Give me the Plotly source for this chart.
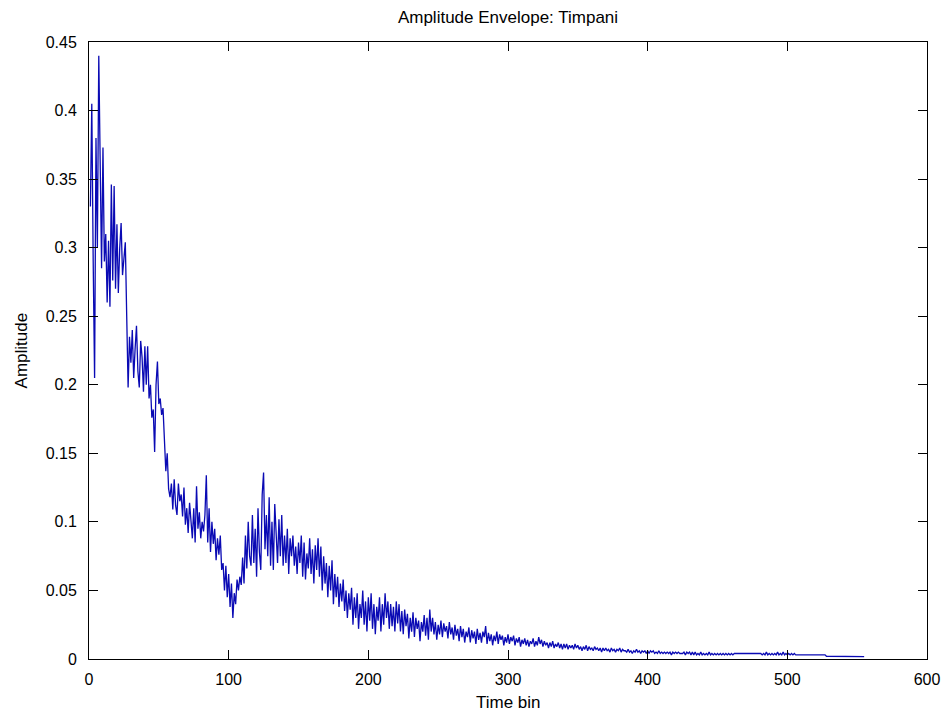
import plotly.graph_objects as go

# Amplitude envelope values, bins 1..555
amp_001_050 = [0.33, 0.405, 0.29, 0.205, 0.38, 0.30, 0.44, 0.345, 0.285, 0.373,
               0.29, 0.31, 0.26, 0.305, 0.257, 0.346, 0.276, 0.345, 0.27, 0.317,
               0.267, 0.30, 0.318, 0.28, 0.29, 0.304, 0.25, 0.198, 0.235, 0.216,
               0.24, 0.205, 0.226, 0.243, 0.21, 0.198, 0.232, 0.22, 0.195, 0.228,
               0.20, 0.228, 0.19, 0.20, 0.176, 0.182, 0.151, 0.20, 0.217, 0.186]
amp_051_100 = [0.19, 0.178, 0.183, 0.16, 0.137, 0.15, 0.124, 0.118, 0.128, 0.109,
               0.131, 0.112, 0.105, 0.128, 0.115, 0.12, 0.104, 0.125, 0.098, 0.11,
               0.092, 0.114, 0.10, 0.088, 0.11, 0.085, 0.126, 0.095, 0.107, 0.088,
               0.10, 0.093, 0.105, 0.134, 0.085, 0.11, 0.078, 0.10, 0.084, 0.095,
               0.072, 0.088, 0.076, 0.09, 0.065, 0.07, 0.05, 0.068, 0.045, 0.062]
amp_101_150 = [0.038, 0.055, 0.03, 0.048, 0.04, 0.058, 0.05, 0.06, 0.054, 0.074,
               0.055, 0.09, 0.066, 0.10, 0.075, 0.068, 0.105, 0.07, 0.095, 0.06,
               0.11, 0.078, 0.065, 0.12, 0.136, 0.08, 0.105, 0.075, 0.118, 0.068,
               0.10, 0.065, 0.113, 0.085, 0.07, 0.102, 0.075, 0.105, 0.068, 0.09,
               0.07, 0.095, 0.062, 0.088, 0.075, 0.09, 0.068, 0.082, 0.062, 0.085]
amp_151_200 = [0.07, 0.09, 0.06, 0.085, 0.058, 0.077, 0.066, 0.088, 0.062, 0.08,
               0.055, 0.083, 0.065, 0.088, 0.06, 0.082, 0.05, 0.075, 0.055, 0.07,
               0.045, 0.068, 0.05, 0.072, 0.04, 0.062, 0.045, 0.06, 0.038, 0.055,
               0.042, 0.058, 0.035, 0.05, 0.03, 0.048, 0.036, 0.052, 0.025, 0.045,
               0.03, 0.048, 0.022, 0.04, 0.03, 0.05, 0.025, 0.042, 0.02, 0.045]
amp_201_250 = [0.028, 0.048, 0.022, 0.04, 0.018, 0.038, 0.028, 0.045, 0.02, 0.04,
               0.025, 0.048, 0.03, 0.042, 0.022, 0.04, 0.024, 0.038, 0.02, 0.042,
               0.026, 0.04, 0.02, 0.035, 0.018, 0.036, 0.024, 0.033, 0.015, 0.03,
               0.02, 0.034, 0.016, 0.03, 0.022, 0.028, 0.013, 0.027, 0.02, 0.032,
               0.017, 0.03, 0.014, 0.036, 0.02, 0.03, 0.018, 0.027, 0.014, 0.025]
amp_251_300 = [0.018, 0.028, 0.016, 0.026, 0.02, 0.024, 0.015, 0.027, 0.018, 0.023,
               0.014, 0.025, 0.017, 0.022, 0.013, 0.024, 0.016, 0.022, 0.012, 0.02,
               0.016, 0.023, 0.012, 0.021, 0.015, 0.02, 0.011, 0.022, 0.014, 0.019,
               0.012, 0.02, 0.016, 0.024, 0.011, 0.019, 0.013, 0.018, 0.01, 0.017,
               0.013, 0.02, 0.011, 0.018, 0.014, 0.017, 0.01, 0.016, 0.012, 0.018]
amp_301_350 = [0.011, 0.016, 0.013, 0.017, 0.01, 0.015, 0.012, 0.016, 0.009, 0.014,
               0.011, 0.015, 0.01, 0.014, 0.009, 0.013, 0.011, 0.015, 0.009, 0.013,
               0.01, 0.016, 0.011, 0.014, 0.009, 0.013, 0.01, 0.012, 0.008, 0.012,
               0.009, 0.013, 0.008, 0.011, 0.009, 0.012, 0.008, 0.011, 0.007, 0.011,
               0.008, 0.011, 0.007, 0.01, 0.008, 0.01, 0.007, 0.011, 0.008, 0.01]
amp_351_400 = [0.007, 0.009, 0.006, 0.009, 0.007, 0.01, 0.006, 0.009, 0.007, 0.008,
               0.006, 0.009, 0.007, 0.008, 0.006, 0.008, 0.005, 0.008, 0.006, 0.008,
               0.006, 0.007, 0.005, 0.008, 0.006, 0.007, 0.005, 0.007, 0.006, 0.008,
               0.005, 0.007, 0.006, 0.006, 0.005, 0.007, 0.005, 0.006, 0.004, 0.006,
               0.005, 0.007, 0.005, 0.006, 0.004, 0.006, 0.005, 0.006, 0.004, 0.006]
amp_401_450 = [0.004, 0.006, 0.005, 0.006, 0.004, 0.005, 0.004, 0.006, 0.004, 0.005,
               0.004, 0.005, 0.004, 0.005, 0.004, 0.005, 0.003, 0.005, 0.004, 0.005,
               0.004, 0.005, 0.004, 0.004, 0.004, 0.005, 0.003, 0.005, 0.004, 0.005,
               0.003, 0.005, 0.003, 0.005, 0.003, 0.004, 0.003, 0.005, 0.003, 0.004,
               0.003, 0.004, 0.003, 0.005, 0.003, 0.004, 0.003, 0.004, 0.003, 0.004]
amp_451_500 = [0.003, 0.004, 0.003, 0.004, 0.003, 0.004, 0.003, 0.004, 0.003, 0.004,
               0.003, 0.004, 0.004, 0.004, 0.004, 0.004, 0.004, 0.004, 0.004, 0.004,
               0.004, 0.004, 0.004, 0.004, 0.004, 0.004, 0.004, 0.004, 0.004, 0.004,
               0.004, 0.003, 0.004, 0.003, 0.005, 0.003, 0.004, 0.003, 0.004, 0.003,
               0.004, 0.003, 0.005, 0.003, 0.004, 0.003, 0.005, 0.003, 0.004, 0.003]
amp_501_555 = [0.004, 0.003, 0.004, 0.003, 0.004, 0.003, 0.003, 0.003, 0.003, 0.003,
               0.003, 0.003, 0.003, 0.003, 0.003, 0.003, 0.003, 0.003, 0.003, 0.003,
               0.003, 0.003, 0.003, 0.003, 0.003, 0.003, 0.003, 0.002, 0.002, 0.002,
               0.0018, 0.0018, 0.0018, 0.0018, 0.0018, 0.0018, 0.0018, 0.0018, 0.0018, 0.0018,
               0.0018, 0.0018, 0.0018, 0.0018, 0.0018, 0.0018, 0.0018, 0.0018, 0.0018, 0.0018,
               0.0018, 0.0018, 0.0018, 0.0018, 0.0018]

amplitude = (amp_001_050 + amp_051_100 + amp_101_150 + amp_151_200 + amp_201_250
             + amp_251_300 + amp_301_350 + amp_351_400 + amp_401_450 + amp_451_500
             + amp_501_555)
time_bin = list(range(1, len(amplitude) + 1))

x_ticks = [0, 100, 200, 300, 400, 500, 600]
y_ticks = [0, 0.05, 0.1, 0.15, 0.2, 0.25, 0.3, 0.35, 0.4, 0.45]
y_tick_text = ["0", "0.05", "0.1", "0.15", "0.2", "0.25", "0.3", "0.35", "0.4", "0.45"]

FONT = "Liberation Sans, Arial, sans-serif"

fig = go.Figure()
fig.add_trace(go.Scatter(x=time_bin, y=amplitude, mode="lines",
                         line=dict(color="#0a0ab4", width=1.3),
                         showlegend=False, hoverinfo="x+y"))

axis_common = dict(showline=True, linecolor="black", linewidth=1, mirror="ticks",
                   ticks="inside", ticklen=9, tickcolor="black", tickwidth=1,
                   showgrid=False, zeroline=False,
                   tickfont=dict(family=FONT, size=16, color="black"))

fig.update_xaxes(range=[0, 600], tickvals=x_ticks, ticktext=[str(v) for v in x_ticks],
                 ticklabelstandoff=6, **axis_common)
fig.update_yaxes(range=[0, 0.45], tickvals=y_ticks, ticktext=y_tick_text,
                 ticklabelstandoff=8, **axis_common)

fig.update_layout(
    width=949, height=717,
    margin=dict(l=89, r=22, t=42, b=58, autoexpand=False),
    paper_bgcolor="white", plot_bgcolor="white",
    title=dict(text="Amplitude Envelope: Timpani", x=0.5, xref="paper",
               y=1 - 17 / 717, yref="container", yanchor="middle", xanchor="center",
               font=dict(family=FONT, size=17, color="black")),
    annotations=[
        dict(text="Time bin", xref="paper", yref="paper", x=0.5, y=-0.07,
             xanchor="center", yanchor="middle", showarrow=False,
             font=dict(family=FONT, size=17, color="black")),
        dict(text="Amplitude", xref="paper", yref="paper", x=-0.08, y=0.5,
             xanchor="center", yanchor="middle", textangle=-90, showarrow=False,
             font=dict(family=FONT, size=17, color="black")),
    ],
)

fig.write_html("out.html", config={"displayModeBar": False},
               post_script="document.body.style.margin='0px';document.body.style.padding='0px';")
